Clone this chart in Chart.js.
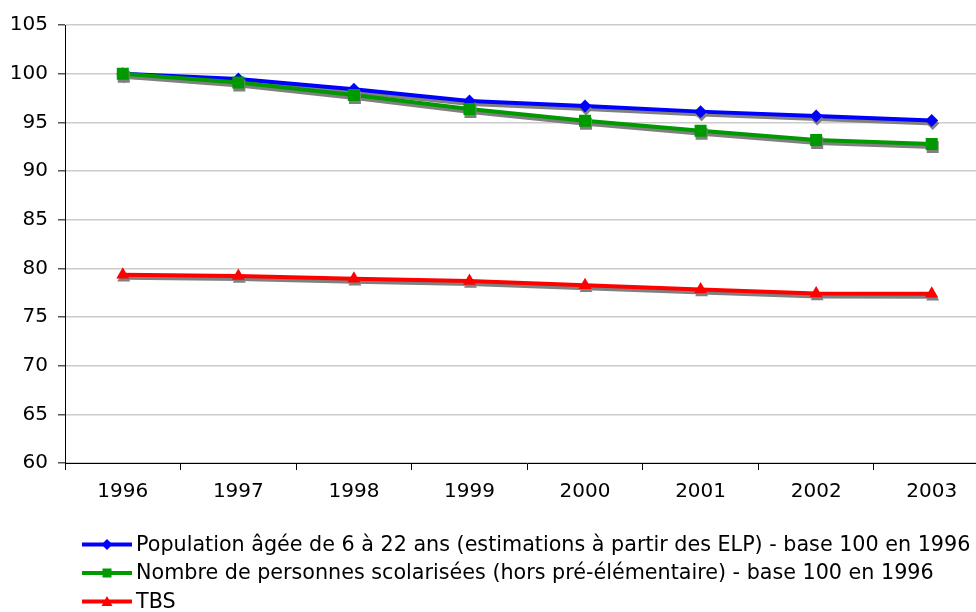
<!DOCTYPE html>
<html>
<head>
<meta charset="utf-8">
<script src="https://cdn.jsdelivr.net/npm/chart.js@4/dist/chart.umd.min.js"></script>
<style>
  html, body { margin: 0; padding: 0; background: #fff; overflow: hidden; width: 976px; height: 612px; }
  #c { display: block; }
</style>
</head>
<body>
<canvas id="c" width="998" height="612"></canvas>
<script>
const years = ['1996', '1997', '1998', '1999', '2000', '2001', '2002', '2003'];
const population = [100, 99.45, 98.4, 97.2, 96.67, 96.1, 95.64, 95.2];
const scolarises = [100, 99.1, 97.8, 96.36, 95.16, 94.13, 93.18, 92.77];
const tbs = [79.35, 79.2, 78.93, 78.7, 78.25, 77.83, 77.41, 77.4];
const yTicks = [60, 65, 70, 75, 80, 85, 90, 95, 100, 105];
const seriesLabels = [
  'Population âgée de 6 à 22 ans (estimations à partir des ELP) - base 100 en 1996',
  'Nombre de personnes scolarisées (hors pré-élémentaire) - base 100 en 1996',
  'TBS'
];

const shadowPlugin = {
  id: 'shadow',
  beforeDatasetDraw(chart) {
    const ctx = chart.ctx;
    ctx.save();
    ctx.shadowColor = 'rgb(128,128,128)';
    ctx.shadowOffsetX = 1;
    ctx.shadowOffsetY = 3;
    ctx.shadowBlur = 0;
  },
  afterDatasetDraw(chart) {
    chart.ctx.restore();
  }
};

function drawMarker(ctx, style, x, y, r, color) {
  ctx.fillStyle = color;
  ctx.beginPath();
  if (style === 'rectRot') {
    ctx.moveTo(x, y - r); ctx.lineTo(x + r, y); ctx.lineTo(x, y + r); ctx.lineTo(x - r, y);
  } else if (style === 'rect') {
    ctx.rect(x - r, y - r, 2 * r, 2 * r);
  } else {
    ctx.moveTo(x, y - r); ctx.lineTo(x + r, y + r * 0.8); ctx.lineTo(x - r, y + r * 0.8);
  }
  ctx.closePath();
  ctx.fill();
}

const legendPlugin = {
  id: 'customLegend',
  afterDraw(chart) {
    const ctx = chart.ctx;
    const items = chart.data.datasets.slice().sort((a, b) => a.legendIndex - b.legendIndex);
    const top = 544.5, step = 28.5;
    items.forEach((ds, i) => {
      const y = top + i * step;
      ctx.save();
      ctx.strokeStyle = ds.borderColor;
      ctx.lineWidth = 4;
      ctx.beginPath();
      ctx.moveTo(82, y); ctx.lineTo(132, y);
      ctx.stroke();
      drawMarker(ctx, ds.pointStyle, 107, y, ds.pointStyle === 'rect' ? 4.5 : 5.5, ds.backgroundColor);
      ctx.fillStyle = '#000';
      ctx.font = '20.7px "DejaVu Sans"';
      ctx.textBaseline = 'middle';
      ctx.textAlign = 'left';
      ctx.fillText(ds.label, 136, y + 1);
      ctx.restore();
    });
  }
};

new Chart(document.getElementById('c'), {
  type: 'line',
  data: {
    labels: years,
    datasets: [
      { label: seriesLabels[0], data: population, legendIndex: 0, order: 1,
        borderColor: '#0000ff', backgroundColor: '#0000ff', borderWidth: 4,
        pointStyle: 'rectRot', pointRadius: 6.5, pointBorderWidth: 0 },
      { label: seriesLabels[1], data: scolarises, legendIndex: 1, order: 0,
        borderColor: '#009900', backgroundColor: '#009900', borderWidth: 4,
        pointStyle: 'rect', pointRadius: 8.5, pointBorderWidth: 0 },
      { label: seriesLabels[2], data: tbs, legendIndex: 2, order: 2,
        borderColor: '#ff0000', backgroundColor: '#ff0000', borderWidth: 4,
        pointStyle: 'triangle', pointRadius: 7.5, pointBorderWidth: 0 }
    ]
  },
  options: {
    responsive: false,
    animation: false,
    devicePixelRatio: 1,
    layout: { padding: { top: 25, right: 3, left: 0, bottom: 0 } },
    plugins: { legend: { display: false }, tooltip: { enabled: false } },
    elements: { line: { tension: 0 } },
    scales: {
      x: {
        offset: true,
        afterFit(scale) { scale.height = 612 - 463; },
        grid: { display: true, drawOnChartArea: false, drawTicks: true, tickLength: 7, offset: true, tickColor: '#000', lineWidth: 1 },
        border: { display: true, color: '#000', width: 1 },
        ticks: { color: '#000', font: { family: 'DejaVu Sans', size: 20 }, padding: 10, maxRotation: 0 }
      },
      y: {
        min: 60, max: 105,
        afterFit(scale) { scale.width = 65; },
        afterBuildTicks(scale) { scale.ticks = yTicks.map(v => ({ value: v })); },
        grid: { color: '#cccccc', lineWidth: 1.5, tickLength: 7, tickColor: '#555' },
        border: { display: true, color: '#000', width: 1 },
        ticks: { color: '#000', font: { family: 'DejaVu Sans', size: 20 }, padding: 10 }
      }
    }
  },
  plugins: [shadowPlugin, legendPlugin]
});
</script>
</body>
</html>
